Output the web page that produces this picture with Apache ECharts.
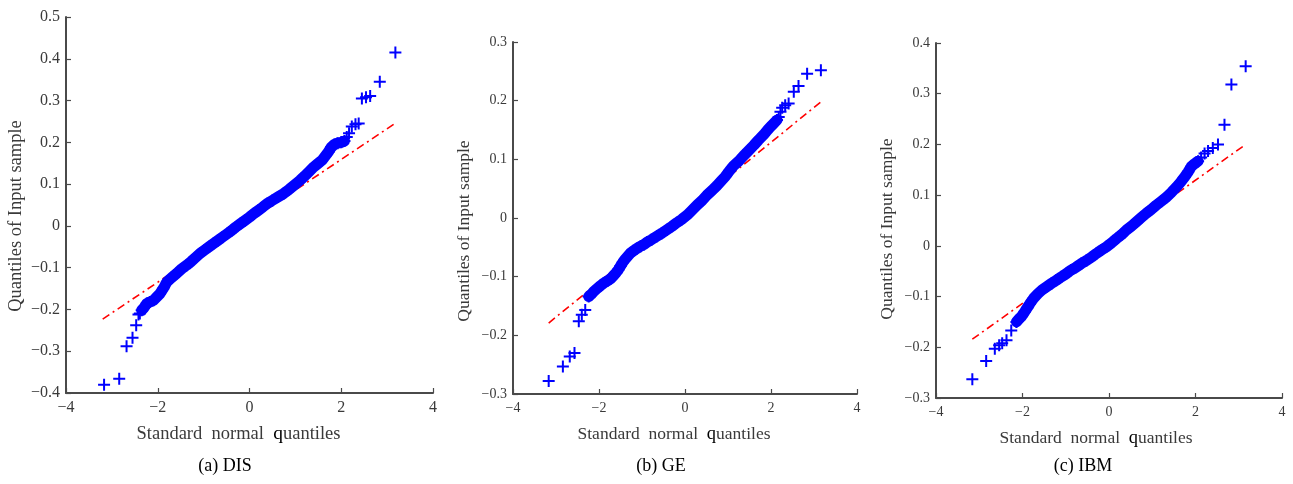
<!DOCTYPE html>
<html lang="en">
<head>
    <meta charset="UTF-8">
    <title>QQ plots</title>
    <script src="https://cdn.jsdelivr.net/npm/echarts@6/dist/echarts.min.js"></script>
    <style>
        html, body { margin: 0; padding: 0; background: #fff; }
        #qqcharts { width: 1293px; height: 484px; }
    </style>
</head>
<body>
<div id="qqcharts"></div>
<script type="text/javascript">
    // x ticks shared by all three panels
    var xTicks = [-4, -2, 0, 2, 4];
    var captions = ['(a) DIS', '(b) GE', '(c) IBM'];

    // ---- DIS ----
    var disYTicks = [-0.4, -0.3, -0.2, -0.1, 0, 0.1, 0.2, 0.3, 0.4, 0.5];
    var disLow = [[-3.17, -0.380], [-2.84, -0.366], [-2.68, -0.288], [-2.55, -0.268], [-2.47, -0.238],
        [-2.42, -0.212], [-2.39, -0.210]];
    var disBand = [[-2.35, -0.202], [-2.30, -0.196], [-2.24, -0.186], [-2.17, -0.182], [-2.09, -0.178],
        [-2.02, -0.170], [-1.95, -0.162], [-1.88, -0.150], [-1.80, -0.134], [-1.70, -0.124],
        [-1.59, -0.114], [-1.48, -0.103], [-1.37, -0.094], [-1.27, -0.085], [-1.17, -0.075],
        [-1.08, -0.066], [-0.98, -0.058], [-0.88, -0.050], [-0.79, -0.043], [-0.69, -0.035],
        [-0.59, -0.027], [-0.49, -0.019], [-0.39, -0.011], [-0.30, -0.003], [-0.20, 0.005],
        [-0.10, 0.013], [0.00, 0.021], [0.09, 0.029], [0.19, 0.037], [0.29, 0.045],
        [0.38, 0.053], [0.50, 0.061], [0.62, 0.069], [0.74, 0.077], [0.86, 0.087],
        [0.98, 0.098], [1.10, 0.109], [1.20, 0.119], [1.30, 0.130], [1.40, 0.141],
        [1.49, 0.149], [1.58, 0.157], [1.65, 0.167], [1.72, 0.177], [1.78, 0.188],
        [1.85, 0.195], [1.92, 0.198], [2.00, 0.200], [2.07, 0.203]];
    var disHigh = [[2.12, 0.213], [2.17, 0.222], [2.23, 0.238], [2.31, 0.243], [2.38, 0.245],
        [2.45, 0.305], [2.54, 0.308], [2.63, 0.311], [2.84, 0.345], [3.18, 0.415]];
    var disRefLine = [[-3.2, -0.223], [3.17, 0.245]];

    // ---- GE ----
    var geYTicks = [-0.3, -0.2, -0.1, 0, 0.1, 0.2, 0.3];
    var geLow = [[-3.17, -0.278], [-2.84, -0.253], [-2.68, -0.236], [-2.57, -0.230], [-2.47, -0.176],
        [-2.40, -0.165], [-2.32, -0.157]];
    var geBand = [[-2.24, -0.134], [-2.18, -0.130], [-2.12, -0.125], [-2.04, -0.120], [-1.96, -0.115],
        [-1.89, -0.111], [-1.80, -0.107], [-1.72, -0.103], [-1.66, -0.098], [-1.60, -0.093],
        [-1.55, -0.088], [-1.50, -0.082], [-1.45, -0.076], [-1.39, -0.070], [-1.33, -0.065],
        [-1.27, -0.060], [-1.20, -0.056], [-1.12, -0.052], [-1.03, -0.048], [-0.95, -0.045],
        [-0.88, -0.041], [-0.78, -0.037], [-0.65, -0.031], [-0.54, -0.026], [-0.42, -0.020],
        [-0.30, -0.014], [-0.19, -0.008], [-0.07, -0.002], [0.05, 0.005], [0.16, 0.013],
        [0.28, 0.022], [0.40, 0.030], [0.51, 0.039], [0.63, 0.047], [0.74, 0.055],
        [0.84, 0.063], [0.94, 0.071], [1.04, 0.081], [1.13, 0.089], [1.25, 0.097],
        [1.36, 0.106], [1.48, 0.115], [1.60, 0.124], [1.71, 0.133], [1.83, 0.142],
        [1.92, 0.150], [1.98, 0.155], [2.06, 0.161], [2.14, 0.167]];
    var geHigh = [[2.18, 0.172], [2.22, 0.181], [2.26, 0.188], [2.33, 0.192], [2.41, 0.195],
        [2.53, 0.215], [2.64, 0.225], [2.84, 0.246], [3.16, 0.252]];
    var geRefLine = [[-3.17, -0.179], [3.16, 0.198]];

    // ---- IBM ----
    var ibmYTicks = [-0.3, -0.2, -0.1, 0, 0.1, 0.2, 0.3, 0.4];
    var ibmLow = [[-3.16, -0.263], [-2.84, -0.227], [-2.64, -0.203], [-2.54, -0.196], [-2.47, -0.192],
        [-2.37, -0.186], [-2.26, -0.167]];
    var ibmBand = [[-2.14, -0.150], [-2.08, -0.144], [-2.03, -0.140], [-1.95, -0.130], [-1.89, -0.122],
        [-1.83, -0.114], [-1.74, -0.103], [-1.64, -0.094], [-1.55, -0.087], [-1.45, -0.081],
        [-1.33, -0.074], [-1.22, -0.068], [-1.10, -0.061], [-0.99, -0.055], [-0.88, -0.048],
        [-0.76, -0.042], [-0.64, -0.035], [-0.52, -0.029], [-0.40, -0.022], [-0.29, -0.015],
        [-0.17, -0.008], [-0.06, -0.002], [0.06, 0.006], [0.17, 0.014], [0.29, 0.022],
        [0.40, 0.031], [0.52, 0.039], [0.63, 0.047], [0.75, 0.056], [0.86, 0.064],
        [0.98, 0.072], [1.09, 0.080], [1.21, 0.088], [1.33, 0.096], [1.45, 0.106],
        [1.56, 0.116], [1.66, 0.126], [1.75, 0.136], [1.83, 0.146], [1.90, 0.156],
        [1.98, 0.162], [2.06, 0.167]];
    var ibmHigh = [[2.13, 0.174], [2.21, 0.182], [2.29, 0.187], [2.40, 0.193], [2.52, 0.200],
        [2.67, 0.239], [2.83, 0.318], [3.16, 0.354]];
    var ibmRefLine = [[-3.16, -0.184], [3.16, 0.200]];

    var FONT = 'Liberation Serif';
    var AXIS_COLOR = '#4a4a4a';
    var TEXT_COLOR = '#3a3a3a';
    // filled "+" so the arm thickness stays put
    var PLUS = 'path://M-1,-6H1V-1H6V1H1V6H-1V1H-6V-1H-1Z';

    // panel layouts (pixels)
    var panels = [
        {grid: {left: 66, top: 17, width: 367, height: 376}, yTicks: disYTicks, font: 16, nameFont: 18.5,
            low: disLow, band: disBand, high: disHigh, ref: disRefLine, yNamePad: 22, xNamePad: 22, captionX: 225},
        {grid: {left: 513, top: 42, width: 344, height: 352}, yTicks: geYTicks, font: 14, nameFont: 17.5,
            low: geLow, band: geBand, high: geHigh, ref: geRefLine, yNamePad: 26, xNamePad: 22, captionX: 661},
        {grid: {left: 936, top: 43, width: 346, height: 355}, yTicks: ibmYTicks, font: 14, nameFont: 17.5,
            low: ibmLow, band: ibmBand, high: ibmHigh, ref: ibmRefLine, yNamePad: 17, xNamePad: 26, captionX: 1083}
    ];

    function fmt(v) {
        if (Math.abs(v) < 1e-9) return '0';
        var s = (Math.abs(v) >= 1 || v === Math.round(v)) ? String(Math.round(v)) : v.toFixed(1);
        return s.replace('-', '\u2212');
    }

    var grids = [], xAxes = [], yAxes = [], series = [], graphics = [];
    panels.forEach(function (p, i) {
        grids.push(p.grid);
        xAxes.push({
            gridIndex: i, type: 'value', min: xTicks[0], max: xTicks[xTicks.length - 1], interval: 2,
            axisLine: {onZero: false, lineStyle: {color: AXIS_COLOR, width: 2}},
            axisTick: {inside: true, length: 5, lineStyle: {color: AXIS_COLOR, width: 1.2}},
            axisLabel: {color: TEXT_COLOR, fontFamily: FONT, fontSize: p.font, margin: 7, formatter: fmt},
            splitLine: {show: false},
            name: '{a|Standard  normal  }{q|q}{a|uantiles}',
            nameLocation: 'middle', nameGap: 31,
            nameTextStyle: {
                padding: [0, p.xNamePad, 0, 0],
                rich: {
                    a: {color: TEXT_COLOR, fontFamily: FONT, fontSize: p.nameFont},
                    q: {color: '#000', fontFamily: FONT, fontSize: p.nameFont + 1}
                }
            }
        });
        yAxes.push({
            gridIndex: i, type: 'value', min: p.yTicks[0], max: p.yTicks[p.yTicks.length - 1], interval: 0.1,
            axisLine: {onZero: false, lineStyle: {color: AXIS_COLOR, width: 2}},
            axisTick: {inside: true, length: 5, lineStyle: {color: AXIS_COLOR, width: 1.2}},
            axisLabel: {color: TEXT_COLOR, fontFamily: FONT, fontSize: p.font, margin: 6, formatter: fmt},
            splitLine: {show: false},
            name: 'Quantiles of Input sample',
            nameLocation: 'middle', nameGap: 40, nameRotate: 90,
            nameTextStyle: {color: TEXT_COLOR, fontFamily: FONT, fontSize: p.nameFont, padding: [0, p.yNamePad, 0, 0]}
        });
        // reference line (under the points)
        series.push({
            type: 'line', xAxisIndex: i, yAxisIndex: i, data: p.ref, symbol: 'none', silent: true,
            lineStyle: {color: '#ff0000', width: 1.6, type: [8, 4, 2, 4]}, z: 1
        });
        // dense middle band
        series.push({
            type: 'line', xAxisIndex: i, yAxisIndex: i, data: p.band, symbol: 'none', silent: true,
            smooth: false, lineStyle: {color: '#0000ff', width: 11, cap: 'round', join: 'round'}, z: 2
        });
        series.push({
            type: 'scatter', xAxisIndex: i, yAxisIndex: i,
            data: p.low.concat(p.band, p.high),
            symbol: PLUS, symbolSize: 12,
            itemStyle: {color: '#0000ff', opacity: 1}, z: 3
        });
        graphics.push({
            type: 'text', x: p.captionX, y: 466,
            style: {text: captions[i], align: 'center', verticalAlign: 'middle',
                font: '18px "Liberation Serif"', fill: '#000'}
        });
    });

    var qqcharts = echarts.init(document.getElementById('qqcharts'));
    qqcharts.setOption({
        animation: false,
        backgroundColor: '#fff',
        grid: grids,
        xAxis: xAxes,
        yAxis: yAxes,
        series: series,
        graphic: graphics
    });
    window.addEventListener('resize', function () {
        qqcharts.resize();
    });
</script>
</body>
</html>
